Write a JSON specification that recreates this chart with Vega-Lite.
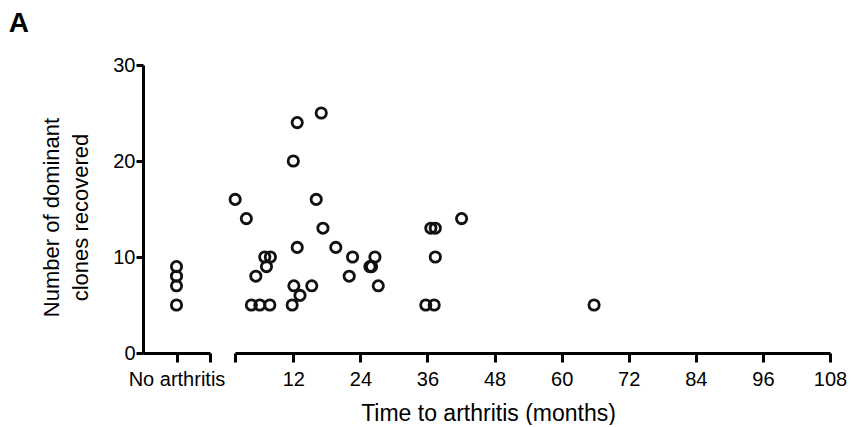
{
  "$schema": "https://vega.github.io/schema/vega-lite/v6.json",
  "background": "white",
  "padding": {"left": 8, "top": 10, "right": 5, "bottom": 0},
  "title": {"text": "A", "anchor": "start", "frame": "bounds", "fontSize": 28, "fontWeight": "bold", "font": "Liberation Sans", "color": "black", "dx": -32, "offset": 17},
  "bounds": "flush",
  "spacing": 25,
  "data": {"values": [
    {"group": "No arthritis", "months": null, "clones": 9},
    {"group": "No arthritis", "months": null, "clones": 8},
    {"group": "No arthritis", "months": null, "clones": 7},
    {"group": "No arthritis", "months": null, "clones": 5},
    {"group": "Arthritis", "months": 1.6, "clones": 16},
    {"group": "Arthritis", "months": 3.6, "clones": 14},
    {"group": "Arthritis", "months": 12.7, "clones": 24},
    {"group": "Arthritis", "months": 17.0, "clones": 25},
    {"group": "Arthritis", "months": 12.0, "clones": 20},
    {"group": "Arthritis", "months": 16.1, "clones": 16},
    {"group": "Arthritis", "months": 17.3, "clones": 13},
    {"group": "Arthritis", "months": 12.7, "clones": 11},
    {"group": "Arthritis", "months": 19.6, "clones": 11},
    {"group": "Arthritis", "months": 6.9, "clones": 10},
    {"group": "Arthritis", "months": 7.9, "clones": 10},
    {"group": "Arthritis", "months": 7.2, "clones": 9},
    {"group": "Arthritis", "months": 5.3, "clones": 8},
    {"group": "Arthritis", "months": 4.5, "clones": 5},
    {"group": "Arthritis", "months": 6.0, "clones": 5},
    {"group": "Arthritis", "months": 7.8, "clones": 5},
    {"group": "Arthritis", "months": 11.8, "clones": 5},
    {"group": "Arthritis", "months": 12.1, "clones": 7},
    {"group": "Arthritis", "months": 13.2, "clones": 6},
    {"group": "Arthritis", "months": 15.3, "clones": 7},
    {"group": "Arthritis", "months": 22.6, "clones": 10},
    {"group": "Arthritis", "months": 22.0, "clones": 8},
    {"group": "Arthritis", "months": 26.6, "clones": 10},
    {"group": "Arthritis", "months": 25.7, "clones": 9},
    {"group": "Arthritis", "months": 26.0, "clones": 9},
    {"group": "Arthritis", "months": 27.2, "clones": 7},
    {"group": "Arthritis", "months": 36.6, "clones": 13},
    {"group": "Arthritis", "months": 37.4, "clones": 13},
    {"group": "Arthritis", "months": 37.4, "clones": 10},
    {"group": "Arthritis", "months": 35.7, "clones": 5},
    {"group": "Arthritis", "months": 37.2, "clones": 5},
    {"group": "Arthritis", "months": 42.1, "clones": 14},
    {"group": "Arthritis", "months": 65.8, "clones": 5}
  ]},
  "config": {
    "view": {"stroke": null},
    "axis": {
      "grid": false,
      "domainColor": "black",
      "domainWidth": 3,
      "tickColor": "black",
      "tickWidth": 3,
      "labelColor": "black",
      "labelFont": "Liberation Sans",
      "labelFontSize": 20,
      "titleColor": "black",
      "titleFont": "Liberation Sans",
      "titleFontSize": 23,
      "titleFontWeight": "normal"
    }
  },
  "hconcat": [
    {
      "width": 67,
      "height": 288,
      "transform": [{"filter": "datum.group === 'No arthritis'"}],
      "mark": {"type": "point", "shape": "circle", "filled": false, "size": 106, "strokeWidth": 2.8, "color": "#111111", "opacity": 1},
      "encoding": {
        "x": {
          "field": "group", "type": "nominal",
          "scale": {"type": "point", "domain": ["No arthritis", "end"], "padding": 0.5, "align": 1},
          "axis": {"title": null, "values": ["No arthritis", "end"], "labelExpr": "datum.value === 'end' ? '' : datum.label", "labelAngle": 0, "tickSize": 9, "labelPadding": 7}
        },
        "y": {
          "field": "clones", "type": "quantitative",
          "scale": {"domain": [0, 30], "nice": false},
          "axis": {"values": [0, 10, 20, 30], "tickSize": 7, "labelPadding": 1, "title": ["Number of dominant", "clones recovered"], "titleFontSize": 22, "titlePadding": 20, "titleLineHeight": 29, "titleY": 152}
        }
      }
    },
    {
      "width": 595,
      "height": 288,
      "transform": [{"filter": "datum.group === 'Arthritis'"}],
      "mark": {"type": "point", "shape": "circle", "filled": false, "size": 106, "strokeWidth": 2.8, "color": "#111111", "opacity": 1},
      "encoding": {
        "x": {
          "field": "months", "type": "quantitative",
          "scale": {"domain": [1.57, 108], "nice": false, "zero": false},
          "axis": {"values": [1.57, 12, 24, 36, 48, 60, 72, 84, 96, 108], "labelExpr": "datum.value < 5 ? '' : datum.label", "tickSize": 9, "labelPadding": 7, "labelFlush": false, "title": "Time to arthritis (months)", "titlePadding": 13, "titleX": 253}
        },
        "y": {
          "field": "clones", "type": "quantitative",
          "scale": {"domain": [0, 30], "nice": false},
          "axis": null
        }
      }
    }
  ]
}
